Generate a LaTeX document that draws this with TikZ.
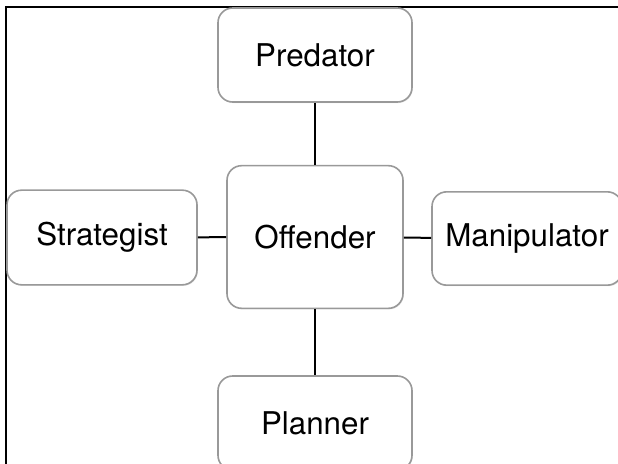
\documentclass[tikz,border=0pt]{standalone}
\usepackage{fontspec}
\setmainfont{TeX Gyre Heros}
\usetikzlibrary{shadows}

\tikzset{
  rolebox/.style={draw=gray!80, line width=1.2pt, rounded corners=11pt, fill=white,
    drop shadow={opacity=0.2, shadow xshift=0.6pt, shadow yshift=-0.8pt},
    inner sep=0pt, minimum width=145.5pt, minimum height=70.5pt,
    font=\fontsize{23.5}{28}\selectfont},
  link/.style={line width=1.5pt}
}

\begin{document}
\begin{tikzpicture}[x=0.75pt,y=0.75pt,yscale=-1,xscale=1]
\useasboundingbox (0,0) rectangle (618,464);
\clip (0,0) rectangle (618,464);

%Frame: left and top
\draw [line width=2pt] (6,464) -- (6,7) -- (618,7) ;

%Shape: Rounded Rect, centre
\node [rolebox, minimum width=132pt, minimum height=107pt] (offender) at (315,237) {Offender};
%Shape: Rounded Rect, top
\node [rolebox] (predator) at (315,55) {Predator};
%Shape: Rounded Rect, left
\node [rolebox, minimum width=142.5pt, minimum height=71pt] (strategist) at (102,237.5) {Strategist};
%Shape: Rounded Rect, right
\node [rolebox, minimum width=142.5pt, minimum height=70pt] (manipulator) at (527,238.5) {Manipulator};
%Shape: Rounded Rect, bottom
\node [rolebox] (planner) at (315,423) {Planner};

%Straight Lines
\draw [link] (predator) -- (offender) ;
\draw [link] (strategist) -- (offender) ;
\draw [link] (offender) -- (manipulator) ;
\draw [link] (offender) -- (planner) ;

\end{tikzpicture}
\end{document}
